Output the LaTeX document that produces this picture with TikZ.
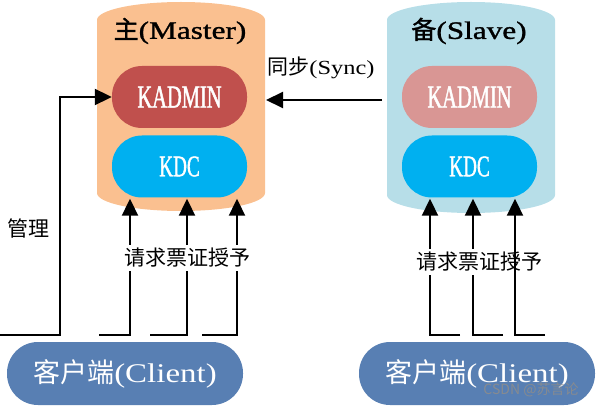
\documentclass[tikz,border=0pt]{standalone}
\usepackage{fontspec}
\usetikzlibrary{arrows.meta,calc}
\setmainfont{Liberation Serif}
\newfontfamily\cjk{Noto Sans CJK SC}
\newfontfamily\cjkb[FakeBold=1.2]{Noto Sans CJK SC}
\newfontfamily\latw[FakeStretch=1.22]{Liberation Serif}
\newfontfamily\latwb[FakeStretch=1.25,FakeBold=1.2]{Liberation Serif}
\newfontfamily\latnb[FakeStretch=0.64,FakeBold=1.3]{Liberation Serif}
\definecolor{mastc}{HTML}{FAC090}
\definecolor{slavc}{HTML}{B7DEE8}
\definecolor{kadm}{HTML}{C0504D}
\definecolor{kadms}{HTML}{D99694}
\definecolor{kdcc}{HTML}{00B0F0}
\definecolor{clientc}{HTML}{587FB3}
\begin{document}
\begin{tikzpicture}[x=1pt,y=1pt,
  pill/.style={rectangle,rounded corners=30pt,minimum width=135pt,minimum height=62pt,inner sep=0pt,text=white,
    font=\fontsize{32}{32}\selectfont\latnb},
  client/.style={rectangle,rounded corners=31pt,minimum width=236pt,minimum height=63pt,inner sep=0pt,fill=clientc,text=white,
    font=\fontsize{27}{27}\selectfont},
  title/.style={inner sep=0pt,font=\fontsize{25}{25}\selectfont},
  arr/.style={line width=2pt,-{Triangle[length=17pt,width=16pt]}},
  lbl/.style={inner sep=3pt,fill=white,font=\fontsize{21}{21}\selectfont\cjk},
  plain/.style={inner sep=0pt,font=\fontsize{21}{21}\selectfont}]
\useasboundingbox (0,0) rectangle (597,-406);
% cylinders
\fill[mastc] (97,-20) arc[start angle=180,end angle=0,x radius=84,y radius=18] -- (265,-193)
  arc[start angle=0,end angle=-180,x radius=84,y radius=18] -- cycle;
\fill[slavc] (387,-20) arc[start angle=180,end angle=0,x radius=84,y radius=18] -- (555,-195)
  arc[start angle=0,end angle=-180,x radius=84,y radius=18] -- cycle;
\node[title] (tm) at (180,-31) {{\cjkb 主}{\latwb (Master)}};
\node[title] (ts) at (469,-31) {{\cjkb 备}{\latwb (Slave)}};
% inner nodes
\node[pill,fill=kadm] (mk) at (179.5,-97) {KADMIN};
\node[pill,fill=kdcc,font=\fontsize{30}{30}\selectfont\latnb] (md) at (179.5,-166.5) {KDC};
\node[pill,fill=kadms] (sk) at (469.5,-97) {KADMIN};
\node[pill,fill=kdcc,font=\fontsize{30}{30}\selectfont\latnb] (sd) at (469.5,-166.5) {KDC};
% clients
\node[client] (mc) at (125,-373.5) {{\cjk 客户端}{\latw (Client)}};
\node[client] (sc) at (477,-373.5) {{\cjk 客户端}{\latw (Client)}};
\node[inner sep=0pt,text=black!45,opacity=0.9,font=\fontsize{14}{14}\selectfont\cjk] (wm) at (531,-390) {CSDN @苏言论};
% sync
\coordinate (syncs) at (382,-100);
\draw[arr] (syncs) -- (266,-100);
\node[plain] (syl) at (321,-68) {{\cjk 同步}{\fontsize{20}{20}\selectfont\latw (Sync)}};
% manage
\coordinate (mg) at (0,-335);
\draw[arr] (mg) -- ++(60,0) |- (mk.west);
\node[plain,font=\fontsize{21}{21}\selectfont\cjk] (mgl) at (28,-228) {管理};
% master requests
\coordinate (c1) at (99,-335);
\coordinate (c2) at (150,-335);
\coordinate (c3) at (202,-335);
\draw[arr] (c1) -| ($(md.south)+(-49.5,-1)$);
\draw[arr] (c2) -| ($(md.south)+(7.5,-1)$);
\draw[arr] (c3) -| ($(md.south)+(57.5,-1)$);
\node[lbl] (rl1) at (187,-258) {请求票证授予};
% slave requests
\coordinate (s1) at (460,-335);
\coordinate (s2) at (503,-335);
\coordinate (s3) at (545,-335);
\draw[arr] (s1) -| ($(sd.south)+(-39.5,-1)$);
\draw[arr] (s2) -| ($(sd.south)+(3.5,-1)$);
\node[lbl] (rl2) at (479,-262) {请求票证授予};
\draw[arr] (s3) -| ($(sd.south)+(45.5,-1)$);
\end{tikzpicture}
\end{document}
